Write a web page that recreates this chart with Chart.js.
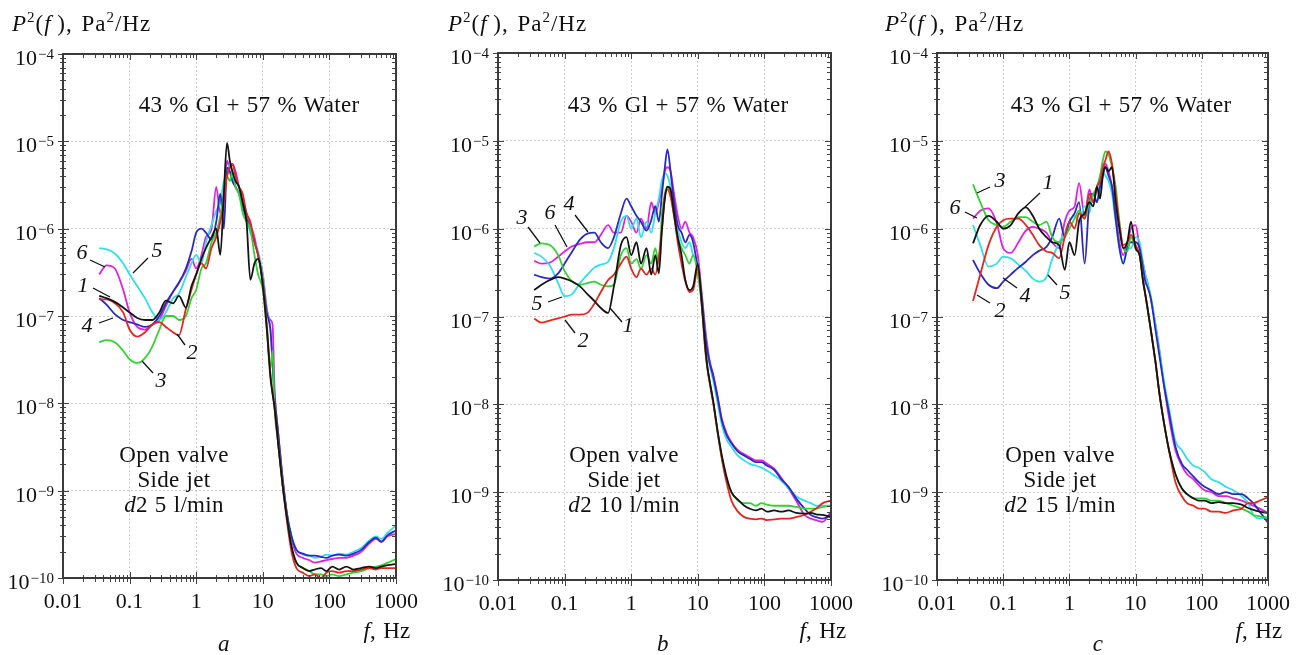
<!DOCTYPE html>
<html>
<head>
<meta charset="utf-8">
<script src="https://cdn.jsdelivr.net/npm/chart.js@4.4.1/dist/chart.umd.min.js"></script>
<style>
  html,body{margin:0;padding:0;background:#fff;}
  #page{position:relative;width:1301px;height:655px;overflow:hidden;font-family:'Liberation Serif','Times New Roman',serif;color:#111;}
  canvas{position:absolute;top:0;}
  .t{position:absolute;white-space:nowrap;line-height:1;transform:translate(-50%,-50%);font-size:23px;letter-spacing:0.3px;word-spacing:1px;}
  .t.l{transform:translate(0,-50%);letter-spacing:1px;word-spacing:2px;}
  .t sup{font-size:15px;line-height:0;}
</style>
</head>
<body>
<div id="page">
  <canvas id="chartA" width="433" height="655" style="left:0"></canvas>
  <canvas id="chartB" width="433" height="655" style="left:433px"></canvas>
  <canvas id="chartC" width="435" height="655" style="left:866px"></canvas>
</div>
<script>
// frequency grid (Hz), shared by all curves
const freqHz = [
  0.035, 0.045, 0.06, 0.08, 0.1, 0.13, 0.17, 0.22,
  0.28, 0.35, 0.45, 0.55, 0.7, 0.85, 1.0, 1.2,
  1.4, 1.7, 2.0, 2.3, 2.6, 2.9, 3.2, 3.5,
  3.9, 4.4, 5, 5.7, 6.5, 7.5, 8.5, 10,
  11.5, 13, 14, 15, 17, 20, 23, 27,
  32, 40, 50, 60, 75, 90, 110, 140,
  180, 230, 300, 400, 500, 600, 750, 1000
];

// panel a, d2 5 l/min
const a1 = [
  1.7e-7, 1.6e-7, 1.45e-7, 1.25e-7, 1.1e-7, 9.5e-8, 9e-8, 9e-8,
  1.1e-7, 1.5e-7, 1.4e-7, 1.7e-7, 1.25e-7, 2.2e-7, 3e-7, 4.5e-7,
  6e-7, 8e-7, 1.0e-6, 5e-7, 2.5e-6, 9.6e-6, 6e-6, 4.5e-6,
  3.5e-6, 3e-6, 2e-6, 1.2e-6, 2.6e-7, 4e-7, 4.5e-7, 2.2e-7,
  7e-8, 2e-8, 1.3e-8, 9e-9, 3.5e-9, 1.1e-9, 5e-10, 2.3e-10,
  1.5e-10, 1.3e-10, 1.2e-10, 1.25e-10, 1.3e-10, 1.2e-10, 1.35e-10, 1.25e-10,
  1.35e-10, 1.25e-10, 1.3e-10, 1.35e-10, 1.3e-10, 1.35e-10, 1.4e-10, 1.45e-10
];
const a2 = [
  1.55e-7, 1.55e-7, 1.4e-7, 1.1e-7, 7e-8, 5.8e-8, 6.5e-8, 8e-8,
  8.5e-8, 7.5e-8, 6.5e-8, 6e-8, 1.2e-7, 2e-7, 3e-7, 4e-7,
  3.5e-7, 6e-7, 8e-7, 1.2e-6, 2e-6, 4e-6, 5e-6, 5.5e-6,
  4e-6, 3e-6, 2.5e-6, 1.5e-6, 1.2e-6, 7e-7, 5e-7, 2.5e-7,
  8e-8, 2.2e-8, 1.3e-8, 9e-9, 3.5e-9, 1.1e-9, 4.5e-10, 2e-10,
  1.3e-10, 1.15e-10, 1.05e-10, 1.1e-10, 1.0e-10, 1.15e-10, 1.2e-10, 1.15e-10,
  1.2e-10, 1.2e-10, 1.25e-10, 1.3e-10, 1.25e-10, 1.3e-10, 1.3e-10, 1.3e-10
];
const a3 = [
  5e-8, 5.3e-8, 5e-8, 4e-8, 3.2e-8, 2.9e-8, 3.3e-8, 4.5e-8,
  7e-8, 1.0e-7, 1.0e-7, 9e-8, 1.0e-7, 1.6e-7, 2e-7, 3.5e-7,
  4e-7, 7e-7, 9e-7, 1.4e-6, 2.5e-6, 4e-6, 3.5e-6, 4.5e-6,
  3e-6, 2.5e-6, 1.5e-6, 1.2e-6, 1.0e-6, 5e-7, 3e-7, 2e-7,
  7e-8, 2.5e-8, 4e-8, 9e-9, 3.5e-9, 1.1e-9, 5e-10, 2.3e-10,
  1.5e-10, 1.3e-10, 1.2e-10, 1.1e-10, 1.1e-10, 1.05e-10, 1.1e-10, 1.05e-10,
  1.1e-10, 1.15e-10, 1.2e-10, 1.3e-10, 1.35e-10, 1.4e-10, 1.5e-10, 1.65e-10
];
const a4 = [
  1.6e-7, 1.35e-7, 1.05e-7, 9e-8, 8.5e-8, 8e-8, 7.5e-8, 8e-8,
  1.0e-7, 1.4e-7, 1.9e-7, 2.4e-7, 3.5e-7, 5.5e-7, 9e-7, 1.0e-6,
  9e-7, 7.5e-7, 1.2e-6, 2.5e-6, 1.0e-6, 5e-6, 4.5e-6, 3.5e-6,
  3e-6, 2.5e-6, 1.8e-6, 1.3e-6, 1.0e-6, 7e-7, 5e-7, 2.5e-7,
  1.1e-7, 7e-8, 3e-8, 1.2e-8, 4.6e-9, 1.3e-9, 5.5e-10, 3e-10,
  2.1e-10, 1.9e-10, 1.8e-10, 1.8e-10, 1.75e-10, 1.7e-10, 1.8e-10, 1.85e-10,
  1.8e-10, 1.9e-10, 2.1e-10, 2.6e-10, 2.9e-10, 2.6e-10, 3.1e-10, 3.5e-10
];
const a5 = [
  6e-7, 5.8e-7, 5.2e-7, 4e-7, 3e-7, 2.2e-7, 1.6e-7, 1.1e-7,
  9e-8, 1.1e-7, 1.6e-7, 1.8e-7, 2.8e-7, 4e-7, 5e-7, 4e-7,
  7e-7, 1.1e-6, 1.6e-6, 2e-6, 3.5e-6, 4e-6, 5.5e-6, 4e-6,
  3e-6, 2.5e-6, 1.7e-6, 1.3e-6, 9e-7, 7e-7, 5.5e-7, 3e-7,
  1.2e-7, 7e-8, 2.8e-8, 1.2e-8, 4.5e-9, 1.3e-9, 5.5e-10, 3e-10,
  2.1e-10, 1.85e-10, 1.8e-10, 1.7e-10, 1.75e-10, 1.85e-10, 1.8e-10, 1.9e-10,
  1.85e-10, 2e-10, 2.2e-10, 2.7e-10, 3e-10, 2.8e-10, 3.3e-10, 4e-10
];
const a6 = [
  3e-7, 3.8e-7, 3.5e-7, 2e-7, 1.1e-7, 7.5e-8, 7e-8, 8e-8,
  9e-8, 1.3e-7, 1.9e-7, 2.4e-7, 3.3e-7, 4.5e-7, 3.5e-7, 5e-7,
  8e-7, 1.0e-6, 3e-6, 1.5e-6, 2.5e-6, 6e-6, 5e-6, 5.5e-6,
  4.5e-6, 3e-6, 2e-6, 1.5e-6, 1.1e-6, 8e-7, 5e-7, 3e-7,
  1.2e-7, 9e-8, 8e-8, 1.5e-8, 4.6e-9, 1.3e-9, 5.5e-10, 2.8e-10,
  1.9e-10, 1.7e-10, 1.6e-10, 1.5e-10, 1.55e-10, 1.6e-10, 1.65e-10, 1.7e-10,
  1.7e-10, 1.8e-10, 2e-10, 2.5e-10, 2.8e-10, 2.6e-10, 3e-10, 3.2e-10
];

// panel b, d2 10 l/min
const b1 = [
  2e-7, 2.3e-7, 2.6e-7, 2.8e-7, 2.7e-7, 2.5e-7, 2.2e-7, 1.8e-7,
  1.5e-7, 1.25e-7, 1.1e-7, 2.2e-7, 6.5e-7, 8e-7, 5e-7, 7e-7,
  4e-7, 6e-7, 3e-7, 5e-7, 3.1e-7, 1.0e-6, 2.2e-6, 3e-6,
  2.8e-6, 1.5e-6, 8e-7, 5e-7, 2.6e-7, 2e-7, 2.2e-7, 4e-7,
  1.4e-7, 4.5e-8, 2.6e-8, 1.9e-8, 1.1e-8, 4.8e-9, 2.6e-9, 1.5e-9,
  1.0e-9, 8.2e-10, 7e-10, 6.5e-10, 6.2e-10, 6.5e-10, 6e-10, 6.2e-10,
  6e-10, 6.2e-10, 5.8e-10, 5.7e-10, 5.8e-10, 5.6e-10, 5.5e-10, 5.2e-10
];
const b2 = [
  9.5e-8, 8.5e-8, 9e-8, 9.5e-8, 1.0e-7, 1.05e-7, 1.05e-7, 1.1e-7,
  1.4e-7, 1.9e-7, 2.6e-7, 3e-7, 4e-7, 4.8e-7, 3.5e-7, 2.8e-7,
  3.5e-7, 3e-7, 3.5e-7, 3e-7, 4.8e-7, 1.0e-6, 2.3e-6, 2.8e-6,
  2.3e-6, 1.4e-6, 7e-7, 4e-7, 2.5e-7, 1.9e-7, 2e-7, 3.5e-7,
  1.3e-7, 4e-8, 2.5e-8, 1.8e-8, 1.05e-8, 4.6e-9, 2.4e-9, 1.3e-9,
  8e-10, 6e-10, 5.2e-10, 5e-10, 4.9e-10, 5e-10, 4.8e-10, 4.9e-10,
  5e-10, 5e-10, 5.2e-10, 5.5e-10, 6e-10, 6.5e-10, 7.5e-10, 8e-10
];
const b3 = [
  6.3e-7, 6.8e-7, 6.5e-7, 5e-7, 3.3e-7, 2.5e-7, 2.3e-7, 2.4e-7,
  2.5e-7, 2.3e-7, 2.2e-7, 2.3e-7, 5e-7, 6e-7, 4e-7, 4.5e-7,
  3.5e-7, 5e-7, 4e-7, 6e-7, 4e-7, 1.5e-6, 2.5e-6, 3e-6,
  2.5e-6, 1.4e-6, 8e-7, 6e-7, 5e-7, 4e-7, 5e-7, 3e-7,
  1.3e-7, 4e-8, 2.5e-8, 1.8e-8, 1.05e-8, 4.6e-9, 2.4e-9, 1.4e-9,
  1.0e-9, 8e-10, 7.5e-10, 7.5e-10, 7e-10, 7.5e-10, 7.2e-10, 7e-10,
  7e-10, 7e-10, 6.8e-10, 6.5e-10, 6.5e-10, 6.5e-10, 6.8e-10, 7e-10
];
const b4 = [
  3e-7, 2.8e-7, 2.7e-7, 3.1e-7, 4e-7, 5.5e-7, 7.5e-7, 8.8e-7,
  9e-7, 7e-7, 6e-7, 8e-7, 1.5e-6, 2.2e-6, 1.8e-6, 1.4e-6,
  1.2e-6, 9.5e-7, 1.25e-6, 1.8e-6, 1.2e-6, 2.5e-6, 5e-6, 8e-6,
  4.5e-6, 2e-6, 1.1e-6, 9e-7, 7e-7, 8.5e-7, 7e-7, 3.5e-7,
  1.6e-7, 6e-8, 4e-8, 3e-8, 2.1e-8, 1.15e-8, 6.5e-9, 4.5e-9,
  3.6e-9, 2.9e-9, 2.6e-9, 2.4e-9, 2.2e-9, 2.2e-9, 2e-9, 1.8e-9,
  1.4e-9, 1.15e-9, 8.5e-10, 6.5e-10, 5.5e-10, 5.2e-10, 5e-10, 5.5e-10
];
const b5 = [
  5.3e-7, 4.8e-7, 3.8e-7, 2.4e-7, 1.7e-7, 1.8e-7, 2.4e-7, 3e-7,
  3.6e-7, 3.9e-7, 4.2e-7, 6e-7, 1.2e-6, 1.4e-6, 1.0e-6, 1.3e-6,
  8e-7, 1.2e-6, 9e-7, 1.5e-6, 2.2e-6, 3.6e-6, 4.3e-6, 4e-6,
  3e-6, 1.6e-6, 1.0e-6, 7e-7, 6e-7, 7e-7, 5e-7, 4e-7,
  1.6e-7, 6e-8, 4e-8, 2.8e-8, 1.9e-8, 1.0e-8, 5.8e-9, 4e-9,
  3.3e-9, 2.6e-9, 2.3e-9, 2.1e-9, 2e-9, 1.9e-9, 1.75e-9, 1.55e-9,
  1.35e-9, 1.1e-9, 9e-10, 8e-10, 7.5e-10, 7e-10, 7e-10, 7e-10
];
const b6 = [
  4.3e-7, 4e-7, 4.1e-7, 4.8e-7, 5.5e-7, 6.3e-7, 6.7e-7, 7e-7,
  7e-7, 8.5e-7, 1.1e-6, 9e-7, 9e-7, 1.4e-6, 1.2e-6, 9e-7,
  1.3e-6, 1.0e-6, 2e-6, 1.5e-6, 2e-6, 3e-6, 4.5e-6, 5e-6,
  4.5e-6, 2.5e-6, 1.4e-6, 1.0e-6, 1.2e-6, 9e-7, 8e-7, 5e-7,
  1.8e-7, 7e-8, 4.5e-8, 3.2e-8, 2.2e-8, 1.2e-8, 6.8e-9, 4.7e-9,
  3.7e-9, 3e-9, 2.7e-9, 2.5e-9, 2.3e-9, 2.3e-9, 2.1e-9, 1.85e-9,
  1.45e-9, 1.1e-9, 8e-10, 5.5e-10, 5e-10, 4.8e-10, 4.6e-10, 6e-10
];

// panel c, d2 15 l/min
const c1 = [
  6.8e-7, 1.1e-6, 1.4e-6, 1.2e-6, 1.0e-6, 1.1e-6, 1.5e-6, 1.75e-6,
  1.4e-6, 1.0e-6, 8e-7, 7e-7, 6.5e-7, 3.4e-7, 7e-7, 5e-7,
  1.2e-6, 1.5e-6, 2e-6, 1.8e-6, 3e-6, 2.2e-6, 4e-6, 5e-6,
  4.5e-6, 5e-6, 2e-6, 1.0e-6, 6e-7, 7e-7, 1.2e-6, 6e-7,
  5e-7, 2.5e-7, 1.8e-7, 1.3e-7, 7e-8, 3e-8, 1.3e-8, 6e-9,
  3e-9, 1.6e-9, 1.1e-9, 9.5e-10, 8.5e-10, 8e-10, 8e-10, 7.5e-10,
  7.7e-10, 7.5e-10, 7.5e-10, 7.2e-10, 6.6e-10, 6.3e-10, 6e-10, 5.8e-10
];
const c2 = [
  1.5e-7, 3e-7, 6.5e-7, 1.05e-6, 1.25e-6, 1.3e-6, 1.3e-6, 1.1e-6,
  8.5e-7, 6.5e-7, 5.5e-7, 5.3e-7, 4.6e-7, 8e-7, 1.2e-6, 1.0e-6,
  1.5e-6, 1.3e-6, 2.5e-6, 2e-6, 3e-6, 3.5e-6, 5e-6, 6e-6,
  7.6e-6, 5.5e-6, 2.5e-6, 1.1e-6, 6.5e-7, 7e-7, 8.5e-7, 6.5e-7,
  5e-7, 2.5e-7, 1.8e-7, 1.3e-7, 7e-8, 3e-8, 1.3e-8, 6e-9,
  3e-9, 1.3e-9, 9e-10, 7.5e-10, 7e-10, 6.5e-10, 6.5e-10, 6e-10,
  6e-10, 5.8e-10, 6.2e-10, 6.5e-10, 7.5e-10, 7.5e-10, 8e-10, 8.8e-10
];
const c3 = [
  3.2e-6, 2e-6, 1.25e-6, 1.1e-6, 1.05e-6, 1.2e-6, 1.35e-6, 1.35e-6,
  1.2e-6, 1.1e-6, 1.2e-6, 8e-7, 7e-7, 8e-7, 1.0e-6, 1.3e-6,
  1.6e-6, 1.3e-6, 2e-6, 2.5e-6, 3e-6, 4e-6, 6e-6, 7.6e-6,
  7e-6, 5e-6, 3e-6, 1.2e-6, 6e-7, 5.5e-7, 8e-7, 6e-7,
  5e-7, 2.5e-7, 1.8e-7, 1.3e-7, 7e-8, 3e-8, 1.3e-8, 6e-9,
  3e-9, 1.6e-9, 1.1e-9, 9.5e-10, 8.5e-10, 8.5e-10, 8.5e-10, 8e-10,
  8e-10, 7.5e-10, 7e-10, 6.5e-10, 6e-10, 5.5e-10, 5.3e-10, 5e-10
];
const c4 = [
  4.4e-7, 3.1e-7, 2.3e-7, 2.1e-7, 2.5e-7, 3e-7, 3.6e-7, 4.2e-7,
  5e-7, 5.6e-7, 6.2e-7, 8e-7, 1.3e-6, 8e-7, 1.2e-6, 1.5e-6,
  2e-6, 4e-7, 2e-6, 2.5e-6, 2e-6, 3e-6, 4.5e-6, 5e-6,
  4e-6, 3e-6, 1.3e-6, 6e-7, 4e-7, 6e-7, 7e-7, 7e-7,
  6e-7, 3.5e-7, 2.5e-7, 2.2e-7, 1.6e-7, 7e-8, 3.5e-8, 1.6e-8,
  8e-9, 3.3e-9, 2.1e-9, 1.8e-9, 1.5e-9, 1.3e-9, 1.15e-9, 1.05e-9,
  9.5e-10, 1.0e-9, 9.5e-10, 9.5e-10, 8.5e-10, 7.5e-10, 6e-10, 4.5e-10
];
const c5 = [
  1.1e-6, 6.5e-7, 3.7e-7, 4e-7, 4.8e-7, 4.6e-7, 3.9e-7, 3.3e-7,
  2.7e-7, 2.5e-7, 2.8e-7, 4.5e-7, 7e-7, 9e-7, 1.2e-6, 1.4e-6,
  1.2e-6, 1.8e-6, 1.5e-6, 2.5e-6, 2e-6, 3.5e-6, 4.5e-6, 4e-6,
  3.5e-6, 2.5e-6, 1.2e-6, 6e-7, 4e-7, 6e-7, 6e-7, 8e-7,
  7e-7, 4e-7, 3e-7, 2.5e-7, 1.7e-7, 8e-8, 4e-8, 1.8e-8,
  9e-9, 3.8e-9, 3e-9, 2.4e-9, 2e-9, 1.9e-9, 1.7e-9, 1.4e-9,
  1.3e-9, 1.15e-9, 1.05e-9, 9e-10, 7.5e-10, 5.5e-10, 5e-10, 5.3e-10
];
const c6 = [
  1.3e-6, 1.6e-6, 1.7e-6, 1.15e-6, 6e-7, 5.3e-7, 7e-7, 9.5e-7,
  1.05e-6, 1.0e-6, 9e-7, 7e-7, 6e-7, 1.2e-6, 1.6e-6, 1.8e-6,
  3.3e-6, 1.4e-6, 2.8e-6, 2e-6, 2.8e-6, 3e-6, 4e-6, 5.5e-6,
  4.5e-6, 3e-6, 1.5e-6, 7e-7, 5e-7, 7e-7, 1.0e-6, 1.1e-6,
  6e-7, 4e-7, 3e-7, 2.5e-7, 1.6e-7, 8e-8, 4e-8, 1.6e-8,
  7e-9, 3e-9, 2e-9, 1.6e-9, 1.4e-9, 1.2e-9, 1.05e-9, 1.0e-9,
  9e-10, 9e-10, 8.5e-10, 8e-10, 7.5e-10, 7e-10, 6.5e-10, 5.8e-10
];

const curveIds = ['1', '2', '3', '4', '5', '6'];
const curveColors = ['#141414', '#e5261f', '#33d233', '#2a2ac2', '#2fe0e6', '#e022e0'];
const xMajor = [0.01, 0.1, 1, 10, 100, 1000];
const xLabels = ['0.01', '0.1', '1', '10', '100', '1000'];
const yExp = [-10, -9, -8, -7, -6, -5, -4];
const panelLetters = ['a', 'b', 'c'];
const flowRates = ['5 l/min', '10 l/min', '15 l/min'];
const mixture = '43 % Gl + 57 % Water';
const noteLines = ['Open valve', 'Side jet'];

// curve number tags: text centre and leader line, px from chart-area top-left
const tagsA = [
  {t: '6', x: 19, y: 198, l: [27, 206, 42, 213]},
  {t: '5', x: 94, y: 196, l: [85, 204, 70, 219]},
  {t: '1', x: 20, y: 231, l: [30, 234, 47, 243]},
  {t: '4', x: 24, y: 271, l: [36, 269, 50, 264]},
  {t: '2', x: 129, y: 298, l: [122, 291, 114, 280]},
  {t: '3', x: 98, y: 326, l: [90, 319, 79, 307]}
];
const tagsB = [
  {t: '3', x: 24, y: 164, l: [30, 174, 42, 190]},
  {t: '6', x: 52, y: 159, l: [57, 172, 69, 194]},
  {t: '4', x: 71, y: 150, l: [77, 162, 90, 179]},
  {t: '5', x: 39, y: 250, l: [50, 249, 64, 244]},
  {t: '2', x: 85, y: 287, l: [77, 280, 67, 267]},
  {t: '1', x: 130, y: 272, l: [124, 269, 112, 255]}
];
const tagsC = [
  {t: '3', x: 63, y: 127, l: [53, 134, 40, 140]},
  {t: '1', x: 111, y: 129, l: [103, 140, 88, 154]},
  {t: '6', x: 18, y: 154, l: [28, 159, 40, 165]},
  {t: '2', x: 63, y: 257, l: [53, 250, 40, 242]},
  {t: '4', x: 88, y: 242, l: [80, 235, 66, 225]},
  {t: '5', x: 128, y: 239, l: [120, 232, 111, 222]}
];

const panels = [
  {canvas: 'chartA', left: 0, pad: {left: 63, right: 37, top: 54, bottom: 77},
   series: [a1, a2, a3, a4, a5, a6], tags: tagsA,
   titleX: 12, mixX: 249, noteX: 174, unitX: 387, letterX: 224},
  {canvas: 'chartB', left: 433, pad: {left: 65, right: 35, top: 53, bottom: 75},
   series: [b1, b2, b3, b4, b5, b6], tags: tagsB,
   titleX: 448, mixX: 678, noteX: 624, unitX: 823, letterX: 663},
  {canvas: 'chartC', left: 866, pad: {left: 71, right: 33, top: 53, bottom: 75},
   series: [c1, c2, c3, c4, c5, c6], tags: tagsC,
   titleX: 885, mixX: 1121, noteX: 1060, unitX: 1259, letterX: 1098}
];

const SERIF = '"Liberation Serif", "Times New Roman", serif';
const isDecade = v => Math.abs(Math.log10(v) - Math.round(Math.log10(v))) < 1e-6;

function logTicks(decades){
  const out = [];
  for(let i = 0; i < decades.length - 1; i++){
    for(let m = 1; m < 10; m++) out.push(m * decades[i]);
  }
  out.push(decades[decades.length - 1]);
  return out;
}
const xTickValues = logTicks(xMajor);
const yTickValues = logTicks(yExp.map(e => Math.pow(10, e)));

const decorPlugin = {
  id: 'decor',
  afterDatasetsDraw(chart){
    const {ctx, chartArea: a, scales: {x, y}} = chart;
    const tags = chart.options.plugins.decor.tags;
    ctx.save();
    // tick marks
    ctx.strokeStyle = '#444';
    ctx.lineWidth = 1;
    ctx.beginPath();
    x.ticks.forEach(t => {
      const px = Math.round(x.getPixelForValue(t.value)) + 0.5;
      const big = isDecade(t.value);
      ctx.moveTo(px, a.bottom - (big ? 6 : 3)); ctx.lineTo(px, a.bottom + (big ? 6 : 4));
      ctx.moveTo(px, a.top); ctx.lineTo(px, a.top + (big ? 6 : 4));
    });
    y.ticks.forEach(t => {
      const py = Math.round(y.getPixelForValue(t.value)) + 0.5;
      const big = isDecade(t.value);
      ctx.moveTo(a.left - (big ? 5 : 3), py); ctx.lineTo(a.left + (big ? 6 : 3), py);
      ctx.moveTo(a.right - (big ? 6 : 4), py); ctx.lineTo(a.right, py);
    });
    ctx.stroke();
    // frame
    ctx.lineWidth = 2;
    ctx.strokeStyle = '#3a3a3a';
    ctx.strokeRect(a.left, a.top, a.right - a.left, a.bottom - a.top);

    // tick labels
    ctx.fillStyle = '#111';
    ctx.textBaseline = 'alphabetic';
    ctx.font = '22px ' + SERIF;
    ctx.textAlign = 'center';
    xMajor.forEach((v, i) => ctx.fillText(xLabels[i], x.getPixelForValue(v), a.bottom + 30));
    ctx.textAlign = 'left';
    yExp.forEach(e => {
      const py = y.getPixelForValue(Math.pow(10, e));
      const sup = '\u2212' + Math.abs(e);
      ctx.font = '15px ' + SERIF;
      const ws = ctx.measureText(sup).width;
      ctx.font = '22px ' + SERIF;
      const wb = ctx.measureText('10').width;
      const right = a.left - 9;
      ctx.fillText('10', right - ws - wb - 1, py + 11);
      ctx.font = '15px ' + SERIF;
      ctx.fillText(sup, right - ws, py + 5);
    });

    // curve number tags
    ctx.strokeStyle = '#111';
    ctx.lineWidth = 1.3;
    ctx.font = 'italic 22px ' + SERIF;
    ctx.textAlign = 'center';
    ctx.textBaseline = 'middle';
    tags.forEach(tg => {
      ctx.beginPath();
      ctx.moveTo(a.left + tg.l[0], a.top + tg.l[1]);
      ctx.lineTo(a.left + tg.l[2], a.top + tg.l[3]);
      ctx.stroke();
      ctx.fillText(tg.t, a.left + tg.x, a.top + tg.y + 1);
    });
    ctx.restore();
  }
};

function makeChart(p){
  const datasets = p.series.map((vals, i) => ({
    label: curveIds[i],
    data: freqHz.map((f, j) => ({x: f, y: vals[j]})),
    borderColor: curveColors[i],
    backgroundColor: curveColors[i],
    borderWidth: 1.8,
    pointRadius: 0,
    cubicInterpolationMode: 'monotone',
    fill: false
  }));
  const gridColor = c => (c.tick && isDecade(c.tick.value)) ? '#cdcdcd' : 'rgba(0,0,0,0)';
  return new Chart(document.getElementById(p.canvas), {
    type: 'line',
    data: {datasets},
    options: {
      responsive: false,
      animation: false,
      layout: {padding: p.pad},
      plugins: {legend: {display: false}, tooltip: {enabled: false}, decor: {tags: p.tags}},
      scales: {
        x: {
          type: 'logarithmic', min: 0.01, max: 1000,
          ticks: {display: false},
          grid: {drawTicks: false, color: gridColor, lineWidth: 1},
          border: {display: false, dash: [2, 2]},
          afterBuildTicks: s => { s.ticks = xTickValues.map(v => ({value: v})); }
        },
        y: {
          type: 'logarithmic', min: 1e-10, max: 1e-4,
          ticks: {display: false},
          grid: {drawTicks: false, color: gridColor, lineWidth: 1},
          border: {display: false, dash: [2, 2]},
          afterBuildTicks: s => { s.ticks = yTickValues.map(v => ({value: v})); }
        }
      }
    },
    plugins: [decorPlugin]
  });
}

const page = document.getElementById('page');
function addText(html, x, y, cls){
  const d = document.createElement('div');
  d.className = 't' + (cls ? ' ' + cls : '');
  d.style.left = x + 'px';
  d.style.top = y + 'px';
  d.innerHTML = html;
  page.appendChild(d);
}

panels.forEach((p, i) => {
  makeChart(p);
  addText('<i>P</i><sup>2</sup>(<i>f</i>&#8201;), Pa<sup>2</sup>/Hz', p.titleX, 23, 'l');
  addText(mixture, p.mixX, 104);
  addText(noteLines[0], p.noteX, 454);
  addText(noteLines[1], p.noteX, 479);
  addText('<i>d</i>2 ' + flowRates[i], p.noteX, 504);
  addText('<i>f</i>, Hz', p.unitX, 630);
  addText('<i>' + panelLetters[i] + '</i>', p.letterX, 643);
});
</script>
</body>
</html>
